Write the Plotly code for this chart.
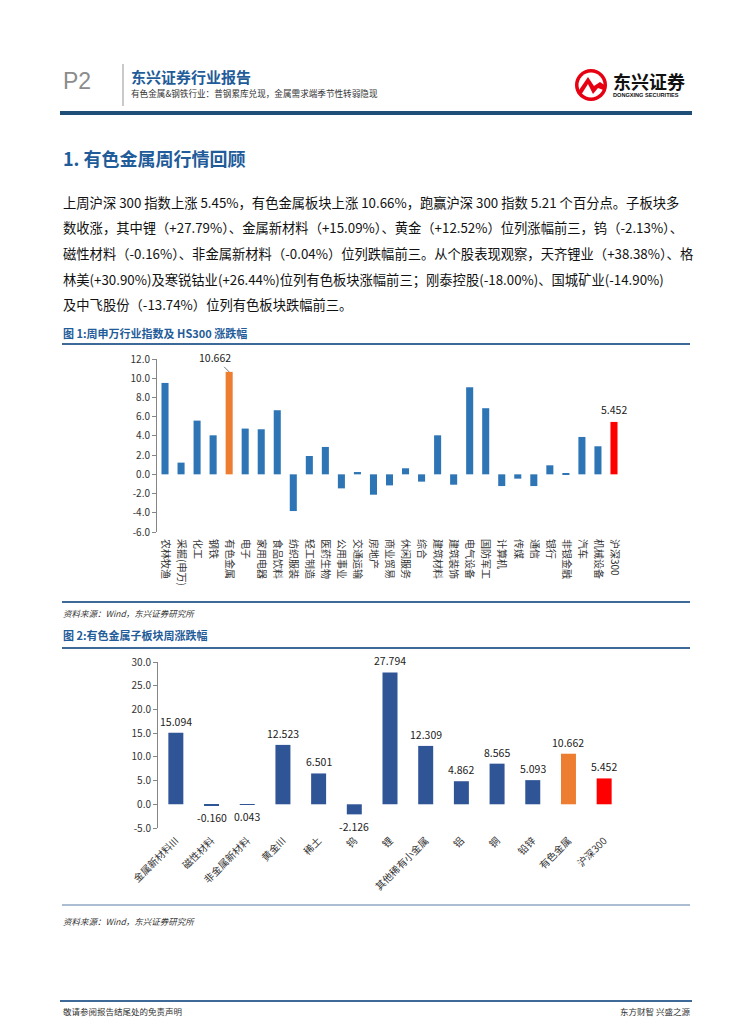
import plotly.graph_objects as go

W, H = 755, 1024

def px(x):
    return x / W

def py(y):
    return 1 - y / H

# ---------------- data ----------------
ind_names = ["农林牧渔", "采掘(申万)", "化工", "钢铁", "有色金属", "电子", "家用电器", "食品饮料",
             "纺织服装", "轻工制造", "医药生物", "公用事业", "交通运输", "房地产", "商业贸易",
             "休闲服务", "综合", "建筑材料", "建筑装饰", "电气设备", "国防军工", "计算机", "传媒",
             "通信", "银行", "非银金融", "汽车", "机械设备", "沪深300"]
ind_values = [9.51, 1.22, 5.59, 4.06, 10.662, 4.76, 4.69, 6.67,
              -3.82, 1.91, 2.85, -1.46, 0.24, -2.12, -1.15,
              0.63, -0.76, 4.06, -1.08, 9.06, 6.88, -1.22, -0.45,
              -1.22, 0.94, 0.10, 3.89, 2.92, 5.452]
ind_ticks = [-6.0, -4.0, -2.0, 0.0, 2.0, 4.0, 6.0, 8.0, 10.0, 12.0]

sub_names = ["金属新材料III", "磁性材料", "非金属新材料", "黄金III", "稀土", "钨", "锂",
             "其他稀有小金属", "铝", "铜", "铅锌", "有色金属", "沪深300"]
sub_values = [15.094, -0.160, 0.043, 12.523, 6.501, -2.126, 27.794,
              12.309, 4.862, 8.565, 5.093, 10.662, 5.452]
sub_ticks = [-5.0, 0.0, 5.0, 10.0, 15.0, 20.0, 25.0, 30.0]

para_lines = [
    "上周沪深 300 指数上涨 5.45%，有色金属板块上涨 10.66%，跑赢沪深 300 指数 5.21 个百分点。子板块多",
    "数收涨，其中锂（+27.79%）、金属新材料（+15.09%）、黄金（+12.52%）位列涨幅前三，钨（-2.13%）、",
    "磁性材料（-0.16%）、非金属新材料（-0.04%）位列跌幅前三。从个股表现观察，天齐锂业（+38.38%）、格",
    "林美(+30.90%)及寒锐钴业(+26.44%)位列有色板块涨幅前三；刚泰控股(-18.00%)、国城矿业(-14.90%)",
    "及中飞股份（-13.74%）位列有色板块跌幅前三。",
]

# ---------------- styles ----------------
CJK = "Noto Sans CJK SC, Noto Sans, sans-serif"
BLUE1 = "#2E75B6"
BLUE2 = "#2F5597"
ORANGE = "#ED7D31"
RED = "#FF0000"
AXIS = "#868686"
TITLE_BLUE = "#1F5C99"
RULE = "#3E6A9A"

def bar_color(name, base):
    if name == "有色金属":
        return ORANGE
    if name == "沪深300":
        return RED
    return base

fig = go.Figure()
fig.add_trace(go.Bar(x=ind_names, y=ind_values, xaxis="x", yaxis="y",
                     marker=dict(color=[bar_color(n, BLUE1) for n in ind_names], line=dict(width=0)),
                     width=0.44, hoverinfo="x+y", showlegend=False))
fig.add_trace(go.Bar(x=sub_names, y=sub_values, xaxis="x3", yaxis="y2",
                     marker=dict(color=[bar_color(n, BLUE2) for n in sub_names], line=dict(width=0)),
                     width=0.42, hoverinfo="x+y", showlegend=False))

# chart geometry (pixels)
c1 = dict(x0=157, x1=622, ytop=359, ybot=532)
c2 = dict(x0=158, x1=622, ytop=662, ybot=828)

def zero_pos(c, lo, hi):
    d0, d1 = py(c["ybot"]), py(c["ytop"])
    return d0 + (d1 - d0) * (0 - lo) / (hi - lo)

n1, n2 = len(ind_names), len(sub_names)
lo1, hi1 = min(ind_ticks), max(ind_ticks)
lo2, hi2 = min(sub_ticks), max(sub_ticks)

tickfont = dict(family=CJK, size=10, color="#333333")

fig.update_layout(
    width=W, height=H, margin=dict(l=0, r=0, t=0, b=0, autoexpand=False),
    paper_bgcolor="white", plot_bgcolor="rgba(0,0,0,0)",
    bargap=0.5,
    xaxis=dict(domain=[px(c1["x0"]), px(c1["x1"])], anchor="y", type="category",
               range=[-0.5, n1 - 0.5], showline=False, ticks="", showgrid=False,
               tickangle=90, tickfont=tickfont, ticklabelstandoff=6, automargin=False),
    xaxis2=dict(overlaying="x", anchor="free", position=zero_pos(c1, lo1, hi1),
                type="linear", range=[-0.5, n1 - 0.5],
                tickvals=[i - 0.5 for i in range(n1 + 1)], showticklabels=False,
                ticks="outside", ticklen=4, tickcolor=AXIS, showline=True,
                linecolor=AXIS, linewidth=1, showgrid=False, zeroline=False),
    yaxis=dict(domain=[py(c1["ybot"]), py(c1["ytop"])], anchor="x", range=[lo1, hi1],
               tickvals=ind_ticks, ticktext=[f"{v:.1f}" for v in ind_ticks],
               showline=True, linecolor=AXIS, ticks="outside", ticklen=4, tickcolor=AXIS,
               showgrid=False, zeroline=False, tickfont=tickfont, automargin=False),
    xaxis3=dict(domain=[px(c2["x0"]), px(c2["x1"])], anchor="y2", type="category",
                range=[-0.5, n2 - 0.5], showline=False, ticks="", showgrid=False,
                tickangle=-45, tickfont=tickfont, ticklabelstandoff=4, automargin=False),
    xaxis4=dict(overlaying="x3", anchor="free", position=zero_pos(c2, lo2, hi2),
                type="linear", range=[-0.5, n2 - 0.5],
                tickvals=[i - 0.5 for i in range(n2 + 1)], showticklabels=False,
                ticks="outside", ticklen=4, tickcolor=AXIS, showline=True,
                linecolor=AXIS, linewidth=1, showgrid=False, zeroline=False),
    yaxis2=dict(domain=[py(c2["ybot"]), py(c2["ytop"])], anchor="x3", range=[lo2, hi2],
                tickvals=sub_ticks, ticktext=[f"{v:.1f}" for v in sub_ticks],
                showline=True, linecolor=AXIS, ticks="outside", ticklen=4, tickcolor=AXIS,
                showgrid=False, zeroline=False, tickfont=tickfont, automargin=False),
)

ann = []
shapes = []

def text(x, y, s, size, color="#222222", bold=False, anchor="left", italic=False, family=CJK):
    if bold:
        s = f"<b>{s}</b>"
    if italic:
        s = f"<i>{s}</i>"
    ann.append(dict(x=px(x), y=py(y), xref="paper", yref="paper", text=s, showarrow=False,
                    xanchor=anchor, yanchor="middle",
                    font=dict(family=family, size=size, color=color)))

def hline(x0, x1, y, color, width):
    shapes.append(dict(type="line", xref="paper", yref="paper", x0=px(x0), x1=px(x1),
                       y0=py(y), y1=py(y), line=dict(color=color, width=width)))

# ---------------- header ----------------
text(61, 81, "P2", 23, color="#8C8C8C", family="Liberation Sans, Arial, sans-serif")
shapes.append(dict(type="line", xref="paper", yref="paper", x0=px(123), x1=px(123),
                   y0=py(64), y1=py(106), line=dict(color="#A6A6A6", width=1.2)))
text(129, 76, "东兴证券行业报告", 15, color=TITLE_BLUE, bold=True)
text(129, 93, "有色金属&amp;钢铁行业：普钢累库兑现，金属需求端季节性转弱隐现", 8.6, color="#333333")
hline(60, 692, 113, "#1F4E79", 4)

# logo
cx, cy, r = 591, 85, 16
shapes.append(dict(type="circle", xref="paper", yref="paper", x0=px(cx - r), x1=px(cx + r),
                   y0=py(cy + r), y1=py(cy - r), fillcolor="#E60012", line=dict(width=0)))
ri = 12.5
shapes.append(dict(type="circle", xref="paper", yref="paper", x0=px(cx - ri), x1=px(cx + ri),
                   y0=py(cy + ri), y1=py(cy - ri), fillcolor="white", line=dict(width=0)))
def ppath(pts):
    return "M " + " L ".join(f"{px(a):.5f},{py(b):.5f}" for a, b in pts) + " Z"
shapes.append(dict(type="path", xref="paper", yref="paper",
                   path=ppath([(577, 93), (588, 77), (594, 86), (600, 82), (606, 86), (606, 91), (598, 88), (593, 94), (588, 84), (581, 95)]),
                   fillcolor="#E60012", line=dict(width=0)))
text(611, 81, "东兴证券", 18, color="#111111", bold=True)
text(611, 95, "DONGXING SECURITIES", 5.6, color="#111111", bold=True,
     family="Liberation Sans, Arial, sans-serif")

# ---------------- section title & paragraph ----------------
text(61, 158, "1. 有色金属周行情回顾", 18, color=TITLE_BLUE, bold=True)
for i, line in enumerate(para_lines):
    text(61, 202 + i * 25.7, line, 13.3, color="#111111")

# ---------------- figure 1 caption ----------------
text(61, 333, "图 1:周申万行业指数及 HS300 涨跌幅", 11, color=TITLE_BLUE, bold=True)
hline(62, 690, 344, RULE, 2)
hline(62, 690, 602, RULE, 2)
text(61, 613, "资料来源：Wind，东兴证券研究所", 8.5, color="#333333", italic=True)

# labels chart 1
i_nf = ind_names.index("有色金属")
ann.append(dict(x=ind_names[i_nf], y=ind_values[i_nf], xref="x", yref="y",
                text=f"{ind_values[i_nf]:.3f}", showarrow=True, arrowhead=0, arrowwidth=0.8,
                arrowcolor="#555555", ax=-14, ay=-14, xanchor="center", yanchor="middle",
                font=dict(family=CJK, size=10.5, color="#222222")))
i_hs = ind_names.index("沪深300")
ann.append(dict(x=ind_names[i_hs], y=ind_values[i_hs], xref="x", yref="y",
                text=f"{ind_values[i_hs]:.3f}", showarrow=False, yanchor="bottom", yshift=3,
                font=dict(family=CJK, size=10.5, color="#222222")))

# ---------------- figure 2 caption ----------------
text(61, 635, "图 2:有色金属子板块周涨跌幅", 11, color=TITLE_BLUE, bold=True)
hline(62, 690, 648, RULE, 2)
hline(62, 690, 905, "#8FA8C4", 1.5)
text(61, 921, "资料来源：Wind，东兴证券研究所", 8.5, color="#333333", italic=True)

for n, v in zip(sub_names, sub_values):
    above = v >= 1
    ann.append(dict(x=n, y=v if above else min(v, 0), xref="x3", yref="y2",
                    text=f"{v:.3f}", showarrow=False,
                    yanchor="bottom" if above else "top", yshift=2 if above else -3,
                    font=dict(family=CJK, size=10.5, color="#222222")))

# ---------------- footer ----------------
hline(60, 692, 1001, RULE, 2)
text(61, 1011, "敬请参阅报告结尾处的免责声明", 8.5, color="#333333")
text(692, 1011, "东方财智 兴盛之源", 8.5, color="#333333", anchor="right")

fig.update_layout(annotations=ann, shapes=shapes)
fig.write_html("out.html", config={"displayModeBar": False},
               post_script="document.body.style.margin='0';document.body.style.overflow='hidden';")
